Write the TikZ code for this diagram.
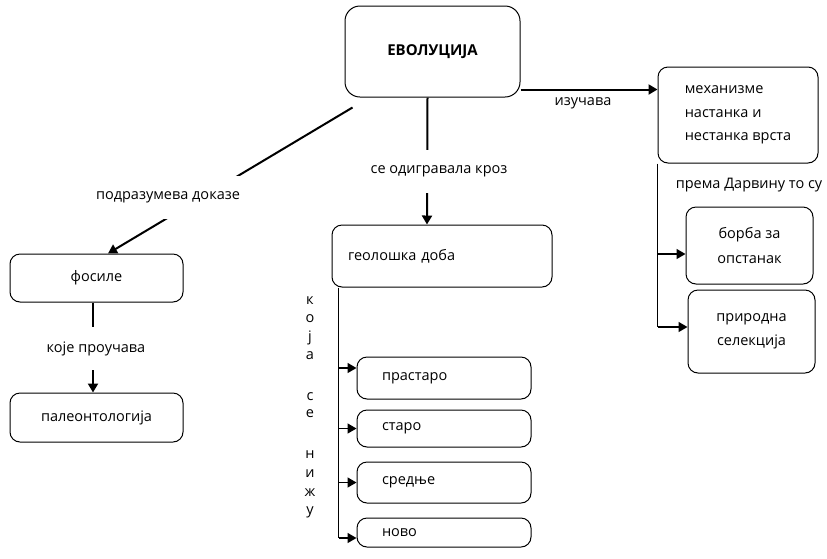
\documentclass[tikz,border=0pt]{standalone}
\usepackage{fontspec}
\setmainfont{Open Sans}
\usetikzlibrary{arrows.meta,calc}
\tikzset{
  box/.style={draw,rounded corners=10pt,line width=1pt,inner sep=0pt},
  arr/.style={line width=2pt,-{Triangle[length=9pt,width=10pt]}},
  lbl/.style={fill=white,inner xsep=2pt,inner ysep=0pt}
}
\begin{document}
\begin{tikzpicture}[x=1pt,y=-1pt,font=\fontsize{14.5}{17}\selectfont]
\useasboundingbox (0,0) rectangle (827,558);

\node[box,rounded corners=15pt,minimum width=175pt,minimum height=91pt,font=\fontsize{15}{17}\selectfont\bfseries] (evo) at (432.5,51.5) {ЕВОЛУЦИЈА};

% right branch
\node[box,minimum width=160pt,minimum height=96pt,align=left,font=\fontsize{14.5}{23.5}\selectfont] (mech) at (738,115) {механизме\\настанка и\\нестанка врста};
\node[box,minimum width=127pt,minimum height=77pt,align=center,font=\fontsize{14.5}{25}\selectfont] (borba) at (749.5,245.5) {борба за\\опстанак};
\node[box,minimum width=127pt,minimum height=83pt,align=center,font=\fontsize{14.5}{24}\selectfont] (sel) at (751.5,331.5) {природна\\селекција};
\draw[arr] ([yshift=8pt]evo.south east) -- ([yshift=8pt]evo.south east -| mech.west);
\node (izuc) at (583,103) {изучава};
\node (darv) at (749,185) {према Дарвину то су};
\draw[line width=1.5pt] (mech.south west) -- ([yshift=4.5pt]sel.west -| mech.south west);
\draw[arr,line width=1.5pt] ([yshift=-8.5pt]borba.west -| mech.south west) -- ([yshift=-8.5pt]borba.west);
\draw[arr,line width=1.5pt] ([yshift=4.5pt]sel.west -| mech.south west) -- ([yshift=4.5pt]sel.west);

% middle branch
\node[box,text width=188pt,inner xsep=16pt,minimum height=62pt,align=left] (geo) at (442,256) {геолошка доба};
\draw[arr] ([xshift=-5pt]evo.south) -- ([xshift=-15pt]geo.north);
\node[lbl,minimum height=43pt] (odig) at (439,171.5) {се одигравала кроз};
\foreach \n/\t/\y/\h in {prast/прастаро/378/42, staro/старо/428.5/37, sred/средње/482.5/41, novo/ново/532.5/29}{
    \node[box,text width=124pt,inner xsep=25pt,minimum height=\h pt,align=left] (\n) at (444,\y) {\t};
}
\coordinate (spine) at ([xshift=7pt]geo.south west);
\draw[line width=1.5pt] (spine) -- ([yshift=-5.5pt]novo.west -| spine);
\foreach \n/\s in {prast/10,staro/0,sred/0,novo/-5.5}{
    \draw[arr,line width=1.5pt] ([yshift=\s pt]\n.west -| spine) -- ([yshift=\s pt]\n.west);
}
\foreach \l/\y [count=\i] in {к/300,о/318,ј/337,а/355,с/396,е/413,н/454,и/473,ж/492,у/510}{
    \node[anchor=base,inner sep=0pt] (kl\i) at (310,\y+4) {\l};
}

% left branch
\node[box,minimum width=173pt,minimum height=48pt] (fos) at (96.5,278) {фосиле};
\node[box,minimum width=173pt,minimum height=49pt] (paleo) at (96.5,417.5) {палеонтологија};
\draw[arr] ([shift={(8,10)}]evo.south west) -- ([xshift=11.5pt]fos.north);
\node[lbl,minimum height=43pt] (dokaz) at (168,197) {подразумева доказе};
\draw[arr] ([xshift=-3.5pt]fos.south) -- ([xshift=-3.5pt]paleo.north);
\node[lbl,minimum height=43pt] (prouc) at (96,348.5) {које проучава};
\end{tikzpicture}
\end{document}
